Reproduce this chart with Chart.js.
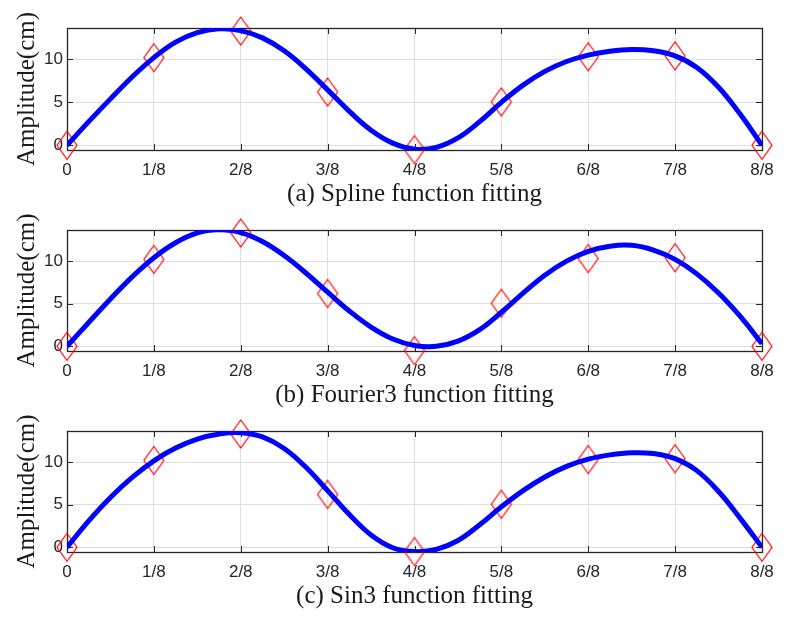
<!DOCTYPE html>
<html>
<head>
<meta charset="utf-8">
<script src="https://cdn.jsdelivr.net/npm/chart.js@4.4.1/dist/chart.umd.min.js"></script>
<style>
  body { margin: 0; background: #fff; width: 786px; height: 625px; position: relative; overflow: hidden; }
  canvas { position: absolute; left: 0; }
</style>
</head>
<body>
<canvas id="chartA" width="786" height="210" style="top:0px"></canvas>
<canvas id="chartB" width="786" height="206" style="top:205px"></canvas>
<canvas id="chartC" width="786" height="202" style="top:410px"></canvas>
<script>
// sample positions (fractions of the period)
const markerX = [0, 0.125, 0.25, 0.375, 0.5, 0.625, 0.75, 0.875, 1];
const markerY = [0, 10.2, 13.3, 6.2, -0.5, 5.05, 10.3, 10.4, 0];

const xTickValues = [0, 0.125, 0.25, 0.375, 0.5, 0.625, 0.75, 0.875, 1];
const xTickLabels = ['0', '1/8', '2/8', '3/8', '4/8', '5/8', '6/8', '7/8', '8/8'];
const yTickValues = [0, 5, 10];

const fitX = [0, 0.03125, 0.0625, 0.09375, 0.125, 0.15625, 0.1875, 0.21875,
              0.25, 0.28125, 0.3125, 0.34375, 0.375, 0.40625, 0.4375, 0.46875,
              0.5, 0.53125, 0.5625, 0.59375, 0.625, 0.65625, 0.6875, 0.71875,
              0.75, 0.78125, 0.8125, 0.84375, 0.875, 0.90625, 0.9375, 0.96875, 1];
const splineY = [0, 2.75, 5.4, 7.95, 10.2, 12.0, 13.1, 13.55,
                 13.35, 12.5, 11.0, 8.9, 6.45, 3.95, 1.75, 0.25,
                 -0.45, -0.25, 0.85, 2.75, 5.0, 7.0, 8.6, 9.75,
                 10.5, 10.95, 11.15, 11.0, 10.4, 9.05, 6.75, 3.6, 0];
const fourierY = [0, 2.8, 5.55, 8.15, 10.4, 12.15, 13.3, 13.7,
                  13.35, 12.3, 10.65, 8.6, 6.35, 4.15, 2.25, 0.85,
                  0.1, 0.0, 0.6, 1.95, 4.0, 6.25, 8.35, 10.0,
                  11.15, 11.75, 11.85, 11.3, 10.2, 8.5, 6.25, 3.5, 0.3];
const sinY = [0, 3.1, 5.85, 8.2, 10.15, 11.65, 12.7, 13.3,
              13.45, 12.95, 11.6, 9.4, 6.65, 3.85, 1.45, -0.05,
              -0.5, -0.25, 0.8, 2.65, 4.75, 6.65, 8.25, 9.5,
              10.35, 10.85, 11.1, 11.0, 10.4, 9.0, 6.55, 3.4, 0];

const yMin = -0.55, yMax = 13.65;
const axisColor = '#262626';

// hollow red diamond, taller than wide like matlab's 'd' marker
const diamond = document.createElement('canvas');
diamond.width = 24; diamond.height = 32;
(function () {
    const c = diamond.getContext('2d');
    c.strokeStyle = '#ff0000';
    c.lineWidth = 1.2;
    c.beginPath();
    c.moveTo(12, 2); c.lineTo(22, 16); c.lineTo(12, 30); c.lineTo(2, 16);
    c.closePath();
    c.stroke();
})();

// box around the plot area plus inward tick marks
const boxPlugin = {
    id: 'box',
    beforeDatasetsDraw(chart) {
        const { ctx, chartArea: a, scales } = chart;
        ctx.save();
        ctx.strokeStyle = axisColor;
        ctx.lineWidth = 1;
        ctx.beginPath();
        scales.x.ticks.forEach(t => {
            const px = Math.round(scales.x.getPixelForValue(t.value)) + 0.5;
            ctx.moveTo(px, a.bottom); ctx.lineTo(px, a.bottom - 6);
            ctx.moveTo(px, a.top); ctx.lineTo(px, a.top + 6);
        });
        scales.y.ticks.forEach(t => {
            const py = Math.round(scales.y.getPixelForValue(t.value)) + 0.5;
            ctx.moveTo(a.left, py); ctx.lineTo(a.left + 6, py);
            ctx.moveTo(a.right, py); ctx.lineTo(a.right - 6, py);
        });
        ctx.stroke();
        ctx.lineWidth = 1.3;
        ctx.strokeRect(Math.round(a.left) + 0.5, Math.round(a.top) + 0.5,
                       Math.round(a.right - a.left), Math.round(a.bottom - a.top));
        ctx.restore();
    }
};

function makePanel(id, fitValues, title, padTop) {
    const ctx = document.getElementById(id).getContext('2d');
    return new Chart(ctx, {
        type: 'line',
        data: {
            datasets: [{
                label: 'fit',
                data: fitX.map((x, i) => ({ x: x, y: fitValues[i] })),
                borderColor: '#0000ff',
                borderWidth: 5,
                pointRadius: 0,
                tension: 0.4,
                fill: false
            }, {
                label: 'samples',
                data: markerX.map((x, i) => ({ x: x, y: markerY[i] })),
                showLine: false,
                pointStyle: diamond,
                pointRadius: 12,
                clip: false
            }]
        },
        options: {
            responsive: false,
            animation: false,
            layout: { padding: { left: 12, right: 24, top: padTop, bottom: 0 } },
            plugins: { legend: { display: false }, tooltip: { enabled: false } },
            scales: {
                x: {
                    type: 'linear',
                    min: 0,
                    max: 1,
                    afterBuildTicks: s => { s.ticks = xTickValues.map(v => ({ value: v })); },
                    afterFit: s => { s.height = 60; },
                    grid: { color: '#dedede', drawTicks: false },
                    border: { display: false },
                    ticks: {
                        autoSkip: false,
                        maxRotation: 0,
                        padding: 10,
                        color: axisColor,
                        font: { family: 'Liberation Sans', size: 17 },
                        callback: v => xTickLabels[xTickValues.indexOf(v)]
                    },
                    title: {
                        display: true,
                        text: title,
                        color: '#1a1a1a',
                        padding: { top: 0, bottom: 1 },
                        font: { family: 'Liberation Serif', size: 25 }
                    }
                },
                y: {
                    min: yMin,
                    max: yMax,
                    afterBuildTicks: s => { s.ticks = yTickValues.map(v => ({ value: v })); },
                    afterFit: s => { s.width = 55; },
                    grid: { color: '#dedede', drawTicks: false },
                    border: { display: false },
                    ticks: {
                        padding: 4,
                        color: axisColor,
                        font: { family: 'Liberation Sans', size: 17 }
                    },
                    title: {
                        display: true,
                        text: 'Amplitude(cm)',
                        color: '#1a1a1a',
                        padding: 0,
                        font: { family: 'Liberation Serif', size: 25 }
                    }
                }
            }
        },
        plugins: [boxPlugin]
    });
}

makePanel('chartA', splineY, '(a) Spline function fitting', 28);
makePanel('chartB', fourierY, '(b) Fourier3 function fitting', 25);
makePanel('chartC', sinY, '(c) Sin3 function fitting', 21);
</script>
</body>
</html>
